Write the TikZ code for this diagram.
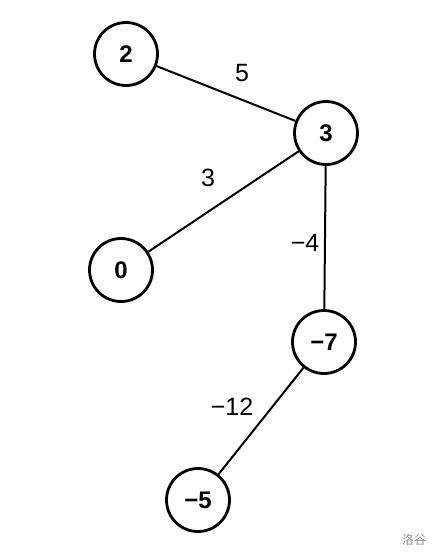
\documentclass[tikz,border=0pt]{standalone}
\usepackage{fontspec}
\setmainfont{Liberation Sans}
\newfontfamily\cjk{Noto Sans CJK SC}
\usetikzlibrary{positioning}

\begin{document}
\begin{tikzpicture}[
  x=1pt,y=-1pt,
  vertex/.style={circle,draw,line width=2.8pt,minimum size=63pt,inner sep=0pt,
                 font=\fontsize{24}{28}\selectfont\bfseries},
  edge/.style={line width=2pt},
  weight/.style={font=\fontsize{25}{30}\selectfont}
]
\useasboundingbox (0,0) rectangle (441,560);

\node[vertex] (n2)  at (126,54)  {2};
\node[vertex] (n3)  at (326,133) {3};
\node[vertex] (n0)  at (121,270) {0};
\node[vertex] (n7)  at (324,342) {−7};
\node[vertex] (n5)  at (198,500) {−5};

\draw[edge] (n2) -- (n3);
\draw[edge] (n3) -- (n0);
\draw[edge] (n3) -- (n7);
\draw[edge] (n7) -- (n5);

\node[weight] (w23) at (242,73)  {5};
\node[weight] (w30) at (208,178) {3};
\node[weight] (w37) at (305,243) {−4};
\node[weight] (w75) at (232,407) {−12};

% watermark
\node[font=\cjk\fontsize{12}{14}\selectfont,text=black!45] (mark) at (414,540) {洛谷};
\end{tikzpicture}
\end{document}
